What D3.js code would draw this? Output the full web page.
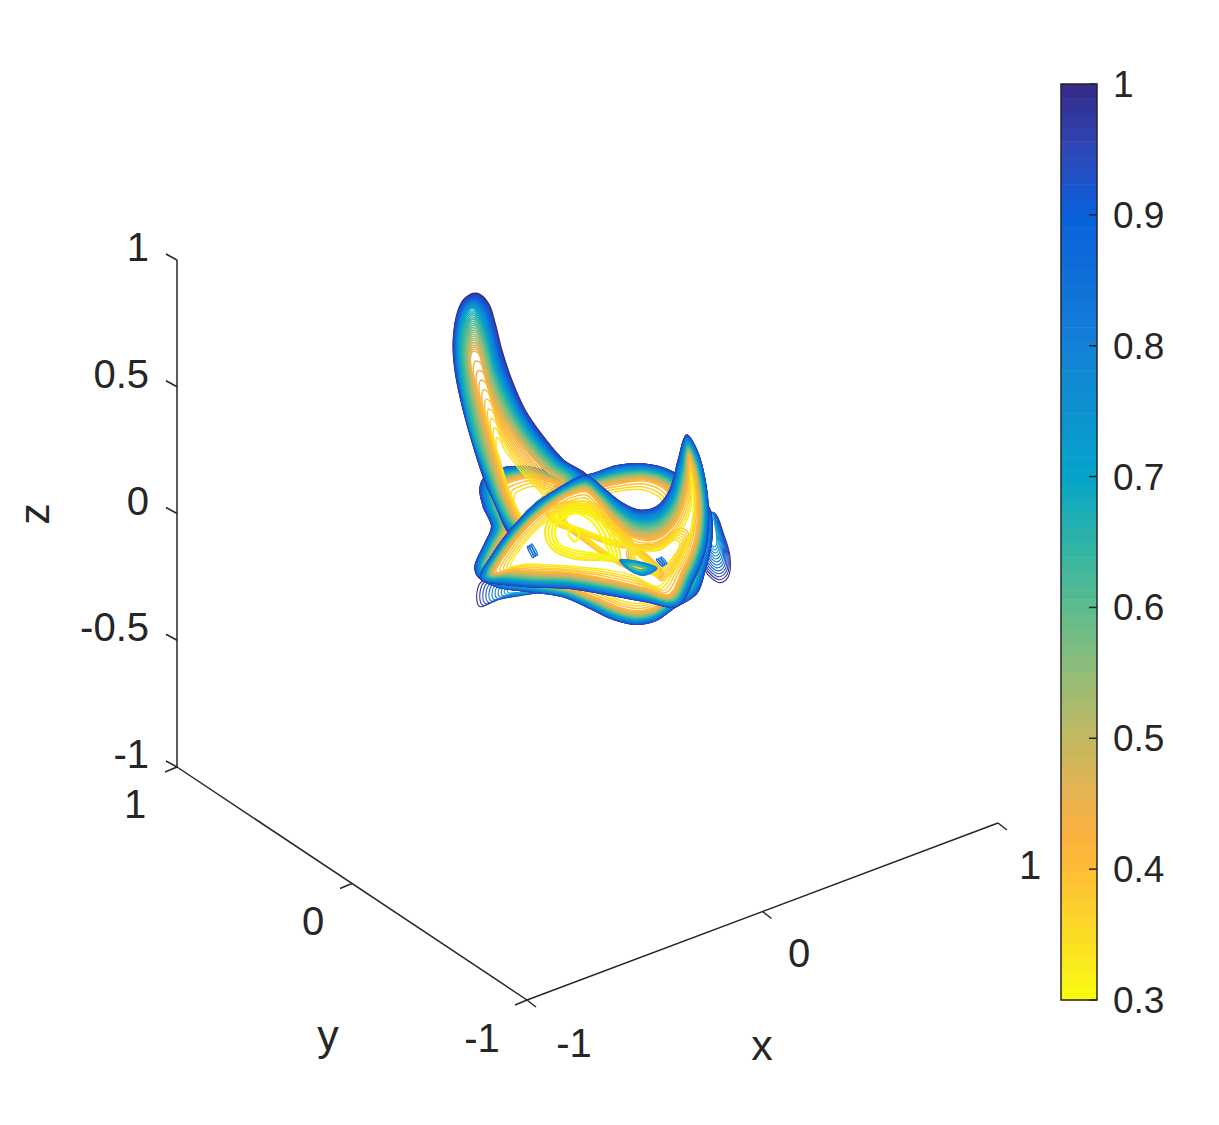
<!DOCTYPE html>
<html><head><meta charset="utf-8">
<script src="https://cdn.jsdelivr.net/npm/d3@7"></script>
<style>html,body{margin:0;background:#fff}svg{display:block}text{font-family:"Liberation Sans",Arial,sans-serif;fill:#262626}</style>
</head><body><svg id="c" width="1219" height="1125"></svg>
<script>
// ---- axis data
const xTicks=[-1,0,1], yTicks=[-1,0,1], zTicks=[-1,-0.5,0,0.5,1];
const zTickLabels=["-1","-0.5","0","0.5","1"];
const cbTicks=[0.3,0.4,0.5,0.6,0.7,0.8,0.9,1];
const cbTickLabels=["0.3","0.4","0.5","0.6","0.7","0.8","0.9","1"];
const paletteLevels=[0.3,0.35,0.4,0.43,0.47,0.5,0.55,0.6,0.65,0.7,0.8,0.9,0.95,1];
const paletteColors=["#f9fb0e","#fbdc25","#fdbc35","#fab040","#dcb455","#c2b862","#92bc78","#5cbc8f","#2eb4a6","#06a4ca","#1481d6","#0a60dc","#2e48b8","#352a87"];

// ---- contours, in projected view-plane units.
// Each ring list holds hand-read contours at the level named by its key.
// Levels between two read rings are drawn by blending those two rings,
// because the individual hairlines cannot be traced one by one.
const backRightLevels=[1,0.7];
const backRightRings=[
 [[835,700],[855,700],[880,760],[900,830],[895,890],[870,908],[845,895],[825,870],[815,800],[820,740]],
 [[838,700],[845,700],[853,730],[858,770],[858,790],[852,797],[845,790],[838,770],[833,750],[832,720]]];
const backLeftLevels=[1,0.7];
const backLeftRings=[
 [[155,905],[140,950],[150,980],[200,960],[280,945],[330,935],[220,915]],
 [[240,925],[232,932],[235,938],[260,938],[285,938],[300,935],[260,925]]];
const donutLevels=[1,0.42,0.33];
const donutRings=[
 [[210,566],[290,560],[350,572],[470,585],[560,557],[640,552],[720,572],[790,620],[840,690],[845,780],[825,870],[800,940],[730,985],[680,1020],[620,1033],[550,1018],[480,985],[400,950],[300,935],[200,920],[145,890],[135,860],[165,790],[185,740],[160,680],[150,625],[165,590]],
 [[250,600],[300,590],[380,610],[470,625],[560,610],[640,600],[700,620],[740,670],[790,720],[800,790],[780,860],[760,910],[720,950],[670,985],[620,995],[570,985],[510,960],[420,925],[310,905],[220,890],[180,870],[180,855],[210,790],[235,740],[220,680],[215,640],[225,610]],
 [[270,640],[310,625],[380,640],[470,660],[560,640],[630,635],[680,655],[700,680],[720,720],[740,790],[730,840],[720,880],[700,930],[660,960],[620,965],[570,955],[510,930],[420,905],[320,885],[250,870],[220,855],[220,840],[250,780],[270,730],[265,690],[260,660],[262,648]]];
const hornLevels=[1,0.7,0.45,0.33];
const hornRings=[
 [[140,40],[175,70],[195,130],[215,210],[245,300],[285,390],[340,470],[400,540],[470,588],[395,620],[300,690],[250,770],[190,660],[160,590],[125,480],[95,370],[75,270],[70,180],[85,90],[105,55]],
 [[125,85],[142,95],[170,170],[190,250],[218,320],[258,400],[312,480],[378,550],[430,590],[380,620],[290,695],[250,740],[200,660],[175,590],[135,480],[108,370],[92,270],[88,180],[100,120],[112,95]],
 [[128,215],[145,220],[160,270],[178,330],[200,385],[240,450],[295,520],[355,580],[395,605],[355,640],[290,700],[265,720],[240,680],[215,620],[190,530],[165,440],[145,360],[130,300],[122,255],[122,228]],
 [[205,490],[215,500],[225,520],[240,540],[260,565],[290,600],[320,630],[340,650],[350,650],[330,665],[295,700],[280,715],[270,700],[255,670],[240,640],[225,590],[215,555],[205,525],[203,505],[203,496]]];
const sheetLevels=[1,0.42,0.31];
const sheetRings=[
 [[468,588],[520,625],[570,665],[625,690],[680,680],[720,630],[745,540],[770,465],[800,510],[825,600],[835,700],[825,810],[790,900],[742,978],[650,965],[540,945],[420,925],[300,920],[215,912],[152,897],[190,820],[250,740],[320,670],[395,620]],
 [[468,632],[505,665],[545,715],[610,770],[680,775],[740,720],[772,620],[778,530],[790,570],[800,630],[805,710],[790,800],[755,880],[720,945],[640,925],[535,900],[420,880],[310,875],[240,870],[195,878],[240,800],[300,730],[360,680],[415,645]],
 [[468,680],[490,700],[520,745],[580,800],[680,815],[745,770],[785,690],[782,590],[788,620],[790,680],[775,770],[740,850],[715,880],[680,915],[600,880],[530,865],[420,855],[330,850],[290,850],[250,855],[280,800],[330,745],[390,700],[435,680]]];
const coreLevels=[0.33,0.3];
const coreRings=[
 [[345,760],[370,700],[440,670],[510,700],[560,790],[570,840],[510,840],[430,835],[370,810]],
 [[375,760],[390,720],[440,700],[490,730],[530,800],[540,825],[490,820],[430,810],[390,795]]];
const coreEyeLevels=[0.3];
const coreEyeRings=[[[415,760],[430,740],[448,765],[435,785]]];
const crossLevels=[0.39,0.33];
const crossRings=[
 [[400,670],[500,690],[600,780],[700,880],[680,900],[580,860],[470,790],[390,720]],
 [[430,700],[500,720],[590,800],[670,880],[660,885],[570,840],[470,770],[410,720]]];
const stripeLevels=[0.36,0.32];
const stripeRings=[
 [[350,690],[470,665],[560,720],[610,800],[560,800],[450,760],[370,730]],
 [[380,715],[470,700],[535,740],[570,780],[530,775],[450,745],[395,725]]];
const rightLevels=[0.4,0.34];
const rightRings=[
 [[600,800],[680,790],[750,745],[775,760],[750,840],[700,900],[650,890],[610,860],[590,830]],
 [[630,815],[690,810],[735,780],[750,790],[730,830],[690,870],[650,860],[625,845],[615,830]]];
const spotRing=[[622,893],[660,884],[688,903],[672,916],[640,910]];
const wedgeLevels=[0.82,0.62];
const wedgeRings=[
 [[570,840],[620,845],[680,865],[640,885],[600,870]],
 [[600,856],[625,858],[645,866],[632,870],[610,864]]];
const dashLevels=[0.9,0.84];
const dashLeftRings=[
 [[292,800],[294,799],[311,832],[309,833]],
 [[304,793],[306,792],[323,825],[321,826]]];
const dashRightRings=[
 [[679,838],[681,837],[699,859],[697,860]],
 [[693,832],[695,831],[711,851],[709,852]]];
const levelStep=0.0125, innerStep=0.022, innerFrom=0.42, outerBandWarp=1.4;

// ---- scales
const svg=d3.select("#c");
const viewX=d3.scaleLinear().domain([0,960]).range([430,750]);
const viewY=d3.scaleLinear().domain([0,1050]).range([280,630]);
const zScale=d3.scaleLinear().domain([-1,1]).range([767,260]);
const xAxisX=d3.scaleLinear().domain([-1,1]).range([527,998]);
const xAxisY=d3.scaleLinear().domain([-1,1]).range([1000,823]);
const yAxisX=d3.scaleLinear().domain([-1,1]).range([527,177]);
const yAxisY=d3.scaleLinear().domain([-1,1]).range([1000,767]);
const cbY=d3.scaleLinear().domain([0.3,1]).range([1000,84]);
const color=d3.scaleLinear().domain(paletteLevels).range(paletteColors).interpolate(d3.interpolateRgb);
const line=d3.line().x(d=>viewX(d[0])).y(d=>viewY(d[1])).curve(d3.curveCatmullRomClosed.alpha(0.5));

function drawLobe(levels,rings,step,width,lowStep,warp){
  const g=svg.append("g").attr("fill","none").attr("stroke-width",width);
  const lo=levels[levels.length-1],hi=levels[0];
  const list=[];
  for(let L=hi;L>=lo-1e-6;L-=(lowStep&&L<=innerFrom?lowStep:step))list.push(L);
  list.forEach(L=>{
    let k=0;while(k<levels.length-2&&L<levels[k+1])k++;
    let b=levels.length>1?(levels[k]-L)/(levels[k]-levels[k+1]):0;
    if(warp&&k===0)b=Math.pow(b,warp);
    const pts=levels.length>1?rings[k].map((p,i)=>[p[0]+(rings[k+1][i][0]-p[0])*b,p[1]+(rings[k+1][i][1]-p[1])*b]):rings[0];
    g.append("path").attr("d",line(pts)).attr("stroke",color(L));
  });
}
drawLobe(backRightLevels,backRightRings,0.024,1.1);
drawLobe(backLeftLevels,backLeftRings,0.03,1.1);
drawLobe(donutLevels,donutRings,levelStep,1.5,innerStep,outerBandWarp);
drawLobe(hornLevels,hornRings,levelStep,1.5);
svg.append("path").attr("d",line(sheetRings[0])).attr("fill","#fff");
drawLobe(rightLevels,rightRings,0.012,1.5);
drawLobe(crossLevels,crossRings,0.009,1.6);
drawLobe(stripeLevels,stripeRings,0.008,1.8);
drawLobe(coreLevels,coreRings,0.01,2.2);
drawLobe(coreEyeLevels,coreEyeRings,1,2.2);
svg.append("path").attr("d",line(spotRing)).attr("fill","#fff");
drawLobe(wedgeLevels,wedgeRings,0.01,1.8);
drawLobe(dashLevels,dashLeftRings,0.03,1.2);
drawLobe(dashLevels,dashRightRings,0.03,1.2);
drawLobe(sheetLevels,sheetRings,levelStep,1.5,innerStep,outerBandWarp);

// ---- 3-D box axes
const axis=svg.append("g").attr("stroke","#262626").attr("stroke-width",1.5).attr("fill","none");
const seg=(a,b,c,d)=>axis.append("line").attr("x1",a).attr("y1",b).attr("x2",c).attr("y2",d);
seg(177,zScale(-1),177,zScale(1));
seg(yAxisX(1),yAxisY(1),yAxisX(-1),yAxisY(-1));
seg(xAxisX(-1),xAxisY(-1),xAxisX(1),xAxisY(1));
zTicks.forEach(z=>seg(177,zScale(z),166,zScale(z)-6));
yTicks.forEach(y=>seg(yAxisX(y),yAxisY(y),yAxisX(y)-12,yAxisY(y)+5));
xTicks.forEach(x=>seg(xAxisX(x),xAxisY(x),xAxisX(x)+9,xAxisY(x)+7));

const label=(x,y,t,size=40,anchor="middle")=>svg.append("text").attr("x",x).attr("y",y).attr("text-anchor",anchor).attr("font-size",size).text(t);
zTicks.forEach((z,i)=>label(149,zScale(z)+1,zTickLabels[i],40,"end"));
[[135,818,"1"],[313,935,"0"],[482,1052,"-1"]].forEach(d=>label(d[0],d[1],d[2]));
[[574,1057,"-1"],[799,967,"0"],[1030,879,"1"]].forEach(d=>label(d[0],d[1],d[2]));
label(328,1050,"y",43);label(762,1060,"x",43);
svg.append("text").attr("transform","translate(49,514) rotate(-90)").attr("text-anchor","middle").attr("font-size",43).text("z");

// ---- colour bar
const cb=svg.append("g");
const nColors=64;
d3.range(nColors).forEach(i=>{
  const a=0.3+0.7*i/nColors,b=0.3+0.7*(i+1)/nColors;
  cb.append("rect").attr("x",1061).attr("width",36).attr("y",cbY(b)).attr("height",cbY(a)-cbY(b)+0.5).attr("fill",color((a+b)/2));
});
cb.append("rect").attr("x",1061).attr("y",84).attr("width",36).attr("height",916).attr("fill","none").attr("stroke","#262626").attr("stroke-width",1.5);
cbTicks.forEach((t,i)=>{
  cb.append("line").attr("x1",1097).attr("x2",1089).attr("y1",cbY(t)).attr("y2",cbY(t)).attr("stroke","#262626").attr("stroke-width",1.5);
  label(1113,cbY(t)+13,cbTickLabels[i],37,"start");
});
</script></body></html>
